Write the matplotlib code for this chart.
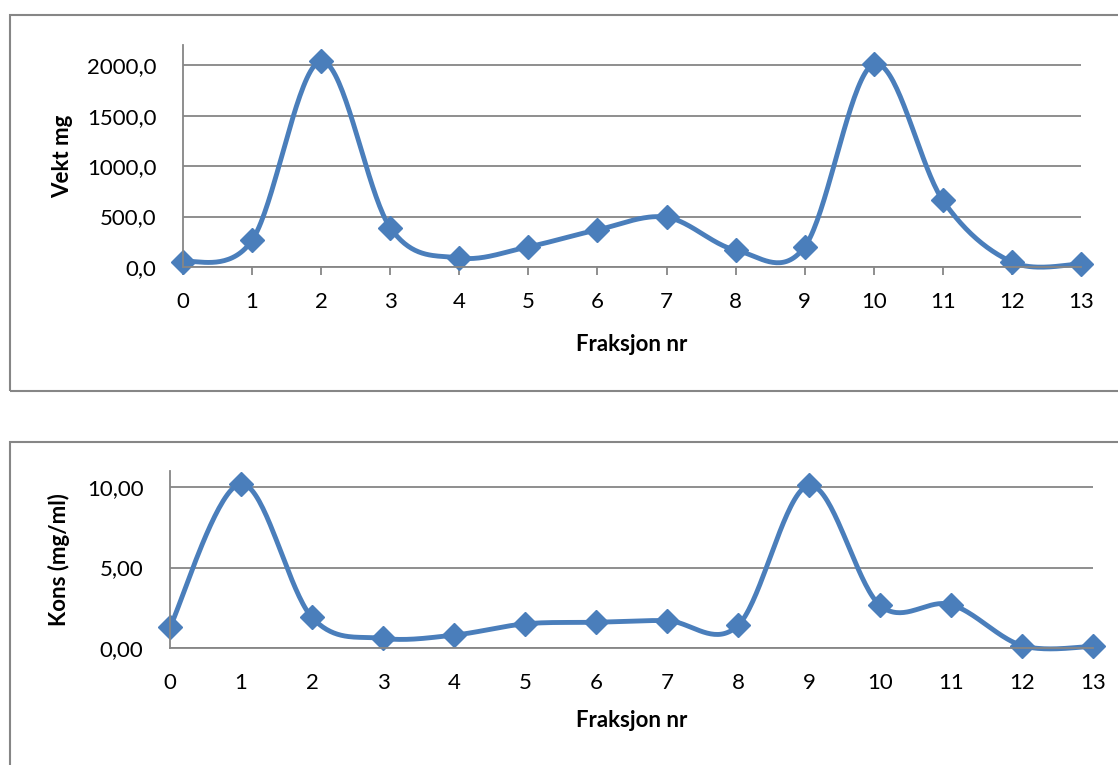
import numpy as np
import matplotlib.pyplot as plt
from matplotlib.patches import Rectangle

plt.rcParams['font.family'] = ['Lato', 'DejaVu Sans']

# data
fraksjon = list(range(14))
vekt_mg = [50, 265, 2040, 390, 90, 200, 368, 493, 168, 200, 2010, 660, 50, 30]
kons = [1.3, 10.2, 1.9, 0.6, 0.8, 1.5, 1.6, 1.7, 1.4, 10.1, 2.65, 2.7, 0.15, 0.1]

blue = '#4A7EBB'
grey = '#868686'
W, H = 1118, 765


def smooth(x, y, n=40):
    # Excel style smoothed line: bezier segments with catmull-rom control points
    x = np.asarray(x, float)
    y = np.asarray(y, float)
    xs, ys = [], []
    t = np.linspace(0, 1, n)
    for i in range(len(x) - 1):
        p0 = (x[max(i - 1, 0)], y[max(i - 1, 0)])
        p1 = (x[i], y[i])
        p2 = (x[i + 1], y[i + 1])
        p3 = (x[min(i + 2, len(x) - 1)], y[min(i + 2, len(x) - 1)])
        c1 = (p1[0] + (p2[0] - p0[0]) / 6, p1[1] + (p2[1] - p0[1]) / 6)
        c2 = (p2[0] - (p3[0] - p1[0]) / 6, p2[1] - (p3[1] - p1[1]) / 6)
        bx = (1 - t)**3 * p1[0] + 3 * (1 - t)**2 * t * c1[0] + 3 * (1 - t) * t**2 * c2[0] + t**3 * p2[0]
        by = (1 - t)**3 * p1[1] + 3 * (1 - t)**2 * t * c1[1] + 3 * (1 - t) * t**2 * c2[1] + t**3 * p2[1]
        xs.extend(bx)
        ys.extend(by)
    return xs, ys


def px_axes(left, top, right, bottom):
    return fig.add_axes([left / W, 1 - bottom / H, (right - left) / W, (bottom - top) / H])


fig = plt.figure(figsize=(W / 100, H / 100), dpi=100)

# chart frames
fig.patches.append(Rectangle((10 / W, 1 - 391 / H), 1.2, 376 / H, transform=fig.transFigure,
                             fill=False, edgecolor=grey, linewidth=1.5))
fig.patches.append(Rectangle((10 / W, -0.2), 1.2, 0.2 + 1 - 442 / H, transform=fig.transFigure,
                             fill=False, edgecolor=grey, linewidth=1.5))

fs = 16


def style(ax, ymax, yticks, fmt, ticks_out):
    ax.set_xlim(0, 13)
    ax.set_ylim(0, ymax)
    ax.set_xticks(fraksjon)
    ax.set_yticks(yticks)
    ax.set_yticklabels([fmt.format(v).replace('.', ',') for v in yticks])
    ax.grid(axis='y', color=grey, linewidth=1.3)
    ax.set_axisbelow(True)
    for s in ['top', 'right']:
        ax.spines[s].set_visible(False)
    for s in ['left', 'bottom']:
        ax.spines[s].set_color(grey)
        ax.spines[s].set_linewidth(1.3)
    ax.tick_params(axis='y', length=0, labelsize=fs, pad=19)
    if ticks_out:
        ax.tick_params(axis='x', length=6, width=1.3, color=grey, labelsize=fs, pad=12)
    else:
        ax.tick_params(axis='x', length=0, labelsize=fs, pad=18)


ax1 = px_axes(183, 45, 1081, 267)
sx, sy = smooth(fraksjon, vekt_mg)
ax1.plot(sx, sy, color=blue, linewidth=3.5, clip_on=False)
ax1.plot(fraksjon, vekt_mg, 'D', color=blue, markersize=12, clip_on=False)
style(ax1, 2200, [0, 500, 1000, 1500, 2000], '{:.1f}', True)
ax1.set_xlabel('Fraksjon nr', fontsize=fs, fontweight='bold', labelpad=16)
ax1.set_ylabel('Vekt mg', fontsize=fs, fontweight='bold', labelpad=10)

ax2 = px_axes(170, 471, 1093, 648)
sx, sy = smooth(fraksjon, kons)
ax2.plot(sx, sy, color=blue, linewidth=3.5, clip_on=False)
ax2.plot(fraksjon, kons, 'D', color=blue, markersize=12, clip_on=False)
style(ax2, 11, [0, 5, 10], '{:.2f}', False)
ax2.set_xlabel('Fraksjon nr', fontsize=fs, fontweight='bold', labelpad=12)
ax2.set_ylabel('Kons (mg/ml)', fontsize=fs, fontweight='bold', labelpad=12)

fig.savefig('out.png', dpi=100)
